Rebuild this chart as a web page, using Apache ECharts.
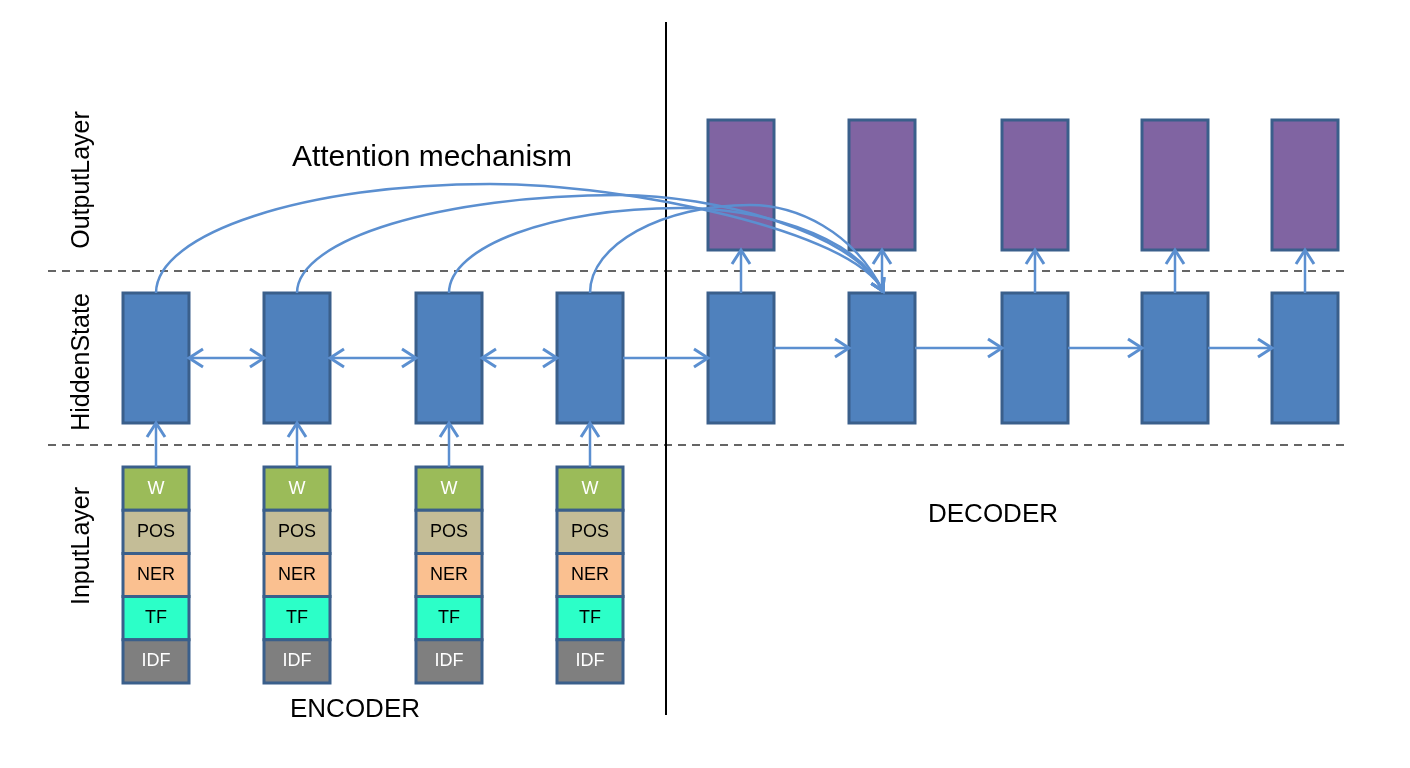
<!DOCTYPE html>
<html>
<head>
<meta charset="utf-8">
<title>Encoder-Decoder with attention</title>
<script src="https://cdn.jsdelivr.net/npm/echarts@6/dist/echarts.min.js"></script>
<style>
    html, body {margin: 0; padding: 0; background: #fff;}
    #main {width: 1410px; height: 768px;}
</style>
</head>
<body>
<div id="main"></div>
<script>
    // columns of the diagram (x centre of every time step)
    var encoderX = [156, 297, 449, 590];
    var decoderX = [741, 882, 1035, 1175, 1305];
    // input features stacked under every encoder step
    var featureLabels = ['W', 'POS', 'NER', 'TF', 'IDF'];
    // layer rows: [top, bottom]
    var outputRow = [120, 250];
    var hiddenRow = [293, 423];
    var inputRow = [467, 683];
    var layerLabels = ['OutputLayer', 'HiddenState', 'InputLayer'];
    var layerLabelY = [180, 362, 546];
    var dividerY = [271, 445];
    var splitX = 666;
    // attention curves: top point of each arc, all ending on decoder step 2
    var attentionTo = 1;
    var attentionPeak = [[490, 184], [620, 195], [680, 208], [750, 205]];
    var captions = [
        {text: 'Attention mechanism', x: 432, y: 158},
        {text: 'ENCODER', x: 355, y: 710},
        {text: 'DECODER', x: 993, y: 515}
    ];

    var BOX_W = 66;
    var ARROW = '#5b8fd0';
    var BORDER = '#3a5f8b';
    var FONT = 'Liberation Sans, Arial, sans-serif';
    var featureStyle = [
        {fill: '#9bbb59', color: '#fff'},
        {fill: '#c4bd97', color: '#000'},
        {fill: '#fac090', color: '#000'},
        {fill: '#2cffc8', color: '#000'},
        {fill: '#7f7f7f', color: '#fff'}
    ];

    // ---- build boxes
    var boxes = [];
    encoderX.forEach(function (x) {
        boxes.push({x: x, y0: hiddenRow[0], y1: hiddenRow[1], fill: '#4f81bd'});
        var h = (inputRow[1] - inputRow[0]) / featureLabels.length;
        featureLabels.forEach(function (lab, i) {
            boxes.push({
                x: x, y0: inputRow[0] + i * h, y1: inputRow[0] + (i + 1) * h,
                fill: featureStyle[i].fill, label: lab, color: featureStyle[i].color
            });
        });
    });
    decoderX.forEach(function (x) {
        boxes.push({x: x, y0: outputRow[0], y1: outputRow[1], fill: '#8064a2'});
        boxes.push({x: x, y0: hiddenRow[0], y1: hiddenRow[1], fill: '#4f81bd'});
    });

    // ---- build straight arrows
    var arrows = [];
    encoderX.forEach(function (x) {
        arrows.push({x1: x, y1: inputRow[0], x2: x, y2: hiddenRow[1]});
    });
    for (var i = 0; i < encoderX.length - 1; i++) {
        arrows.push({x1: encoderX[i] + BOX_W / 2, y1: 358, x2: encoderX[i + 1] - BOX_W / 2, y2: 358, both: true});
    }
    arrows.push({x1: encoderX[encoderX.length - 1] + BOX_W / 2, y1: 358, x2: decoderX[0] - BOX_W / 2, y2: 358});
    for (var j = 0; j < decoderX.length - 1; j++) {
        arrows.push({x1: decoderX[j] + BOX_W / 2, y1: 348, x2: decoderX[j + 1] - BOX_W / 2, y2: 348});
    }
    decoderX.forEach(function (x) {
        arrows.push({x1: x, y1: hiddenRow[0], x2: x, y2: outputRow[1]});
    });

    function chevron(tip, from, len, wid) {
        var dx = tip[0] - from[0], dy = tip[1] - from[1];
        var d = Math.sqrt(dx * dx + dy * dy) || 1;
        var ux = dx / d, uy = dy / d;
        return {
            type: 'polyline',
            shape: {points: [
                [tip[0] - len * ux - wid * uy, tip[1] - len * uy + wid * ux],
                tip,
                [tip[0] - len * ux + wid * uy, tip[1] - len * uy - wid * ux]
            ]},
            style: {stroke: ARROW, lineWidth: 3, fill: null, lineJoin: 'miter'}
        };
    }

    var myChart = echarts.init(document.getElementById('main'));

    var option = {
        animation: false,
        backgroundColor: '#fff',
        grid: {left: 0, right: 0, top: 0, bottom: 0},
        xAxis: {type: 'value', min: 0, max: 1410, show: false},
        yAxis: {type: 'value', min: 0, max: 768, inverse: true, show: false},
        series: [
            { // layer dividers and encoder/decoder split
                type: 'custom',
                z: 1,
                data: dividerY.map(function (y) { return [0, y]; }).concat([[splitX, 0]]),
                renderItem: function (params, api) {
                    if (params.dataIndex < dividerY.length) {
                        var y = dividerY[params.dataIndex];
                        var a = api.coord([48, y]), b = api.coord([1345, y]);
                        return {type: 'line', shape: {x1: a[0], y1: a[1], x2: b[0], y2: b[1]},
                            style: {stroke: '#333', lineWidth: 1.6, lineDash: [8, 6]}};
                    }
                    var p = api.coord([splitX, 22]), q = api.coord([splitX, 715]);
                    return {type: 'line', shape: {x1: p[0], y1: p[1], x2: q[0], y2: q[1]},
                        style: {stroke: '#000', lineWidth: 2}};
                }
            },
            { // boxes
                type: 'custom',
                z: 2,
                data: boxes.map(function (b) { return [b.x, b.y0]; }),
                renderItem: function (params, api) {
                    var b = boxes[params.dataIndex];
                    var p0 = api.coord([b.x - BOX_W / 2, b.y0]);
                    var p1 = api.coord([b.x + BOX_W / 2, b.y1]);
                    var children = [{
                        type: 'rect',
                        shape: {x: p0[0], y: p0[1], width: p1[0] - p0[0], height: p1[1] - p0[1]},
                        style: {fill: b.fill, stroke: BORDER, lineWidth: 3}
                    }];
                    if (b.label) {
                        children.push({
                            type: 'text',
                            style: {
                                text: b.label, x: (p0[0] + p1[0]) / 2, y: (p0[1] + p1[1]) / 2,
                                align: 'center', verticalAlign: 'middle',
                                textAlign: 'center', textVerticalAlign: 'middle',
                                fill: b.color, font: '18px ' + FONT
                            }
                        });
                    }
                    return {type: 'group', children: children};
                }
            },
            { // straight arrows
                type: 'custom',
                z: 3,
                data: arrows.map(function (a) { return [a.x1, a.y1]; }),
                renderItem: function (params, api) {
                    var a = arrows[params.dataIndex];
                    var s = api.coord([a.x1, a.y1]), e = api.coord([a.x2, a.y2]);
                    var children = [
                        {type: 'line', shape: {x1: s[0], y1: s[1], x2: e[0], y2: e[1]},
                            style: {stroke: ARROW, lineWidth: 2.5}},
                        chevron(e, s, 14, 9)
                    ];
                    if (a.both) children.push(chevron(s, e, 14, 9));
                    return {type: 'group', children: children};
                }
            },
            { // attention curves: rise to the peak, then fall onto the target step
                type: 'custom',
                z: 4,
                data: encoderX.map(function (x) { return [x, hiddenRow[0]]; }),
                renderItem: function (params, api) {
                    var k = params.dataIndex;
                    var sx = encoderX[k], sy = hiddenRow[0];
                    var px = attentionPeak[k][0], py = attentionPeak[k][1];
                    var tx = decoderX[attentionTo] + 1, ty = hiddenRow[0] - 2;
                    var s = api.coord([sx, sy]);
                    var a1 = api.coord([sx, sy - 0.55 * (sy - py)]);
                    var a2 = api.coord([px - 0.55 * (px - sx), py]);
                    var p = api.coord([px, py]);
                    var b1 = api.coord([px + 0.35 * (tx - px), py]);
                    var b2 = api.coord([tx - 30, ty - 60]);
                    var e = api.coord([tx, ty]);
                    var st = {stroke: ARROW, lineWidth: 2.5, fill: null};
                    return {type: 'group', children: [
                        {type: 'bezierCurve',
                            shape: {x1: s[0], y1: s[1], cpx1: a1[0], cpy1: a1[1], cpx2: a2[0], cpy2: a2[1], x2: p[0], y2: p[1]},
                            style: st},
                        {type: 'bezierCurve',
                            shape: {x1: p[0], y1: p[1], cpx1: b1[0], cpy1: b1[1], cpx2: b2[0], cpy2: b2[1], x2: e[0], y2: e[1]},
                            style: st},
                        chevron(e, b2, 12, 7)
                    ]};
                }
            },
            { // captions and layer names
                type: 'custom',
                z: 5,
                data: captions.map(function (c) { return [c.x, c.y]; })
                    .concat(layerLabelY.map(function (y) { return [82, y]; })),
                renderItem: function (params, api) {
                    var k = params.dataIndex;
                    if (k < captions.length) {
                        var c = captions[k];
                        var p = api.coord([c.x, c.y]);
                        return {type: 'text', style: {
                            text: c.text, x: p[0], y: p[1],
                            align: 'center', verticalAlign: 'middle',
                            textAlign: 'center', textVerticalAlign: 'middle',
                            fill: '#000', font: (k === 0 ? '30px ' : '26px ') + FONT
                        }};
                    }
                    var n = k - captions.length;
                    var q = api.coord([82, layerLabelY[n]]);
                    return {type: 'text', x: q[0], y: q[1], rotation: Math.PI / 2, style: {
                        text: layerLabels[n], x: 0, y: 0,
                        align: 'center', verticalAlign: 'middle',
                        textAlign: 'center', textVerticalAlign: 'middle',
                        fill: '#000', font: '25px ' + FONT
                    }};
                }
            }
        ]
    };

    myChart.setOption(option);
</script>
</body>
</html>
